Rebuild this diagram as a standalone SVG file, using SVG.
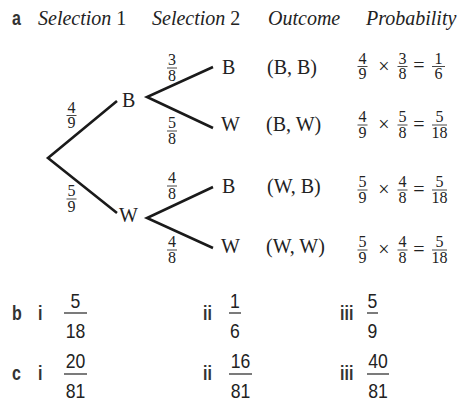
<svg xmlns="http://www.w3.org/2000/svg" width="466" height="402" viewBox="0 0 466 402">
<style>
.hd{font-family:"Liberation Serif","Times New Roman",serif;font-size:20px;font-style:italic;fill:#222}
.up{font-style:normal}
.tx{font-family:"Liberation Serif","Times New Roman",serif;font-size:20px;fill:#222}
.fr{font-family:"Liberation Serif","Times New Roman",serif;font-size:16px;fill:#222;text-anchor:middle}
.op{font-family:"Liberation Serif","Times New Roman",serif;font-size:20px;fill:#222;text-anchor:middle}
.bar{stroke:#333;stroke-width:0.9}
.lab{font-family:"Liberation Sans",Arial,sans-serif;font-size:20px;font-weight:bold;fill:#333}
.sf{font-family:"Liberation Sans",Arial,sans-serif;font-size:20px;fill:#222;text-anchor:middle}
.sbar{stroke:#333;stroke-width:1.3}
.br{stroke:#1a1a1a;stroke-width:2.6;fill:none;stroke-linecap:butt;stroke-linejoin:miter}
</style>
<rect width="466" height="402" fill="#fff"/>

<g id="header">
<text class="lab" transform="translate(12,25) scale(0.8,1)">a</text>
<text class="hd" x="38" y="25">Selection <tspan class="up">1</tspan></text>
<text class="hd" x="152" y="25">Selection <tspan class="up">2</tspan></text>
<text class="hd" x="268" y="25">Outcome</text>
<text class="hd" x="366" y="25">Probability</text>
</g>

<g id="connectors">
<polyline class="br" points="117,101 48,158 117,213"/>
<polyline class="br" points="213,67 147,97 213,128"/>
<polyline class="br" points="213,187 147,218 213,248"/>
</g>

<g id="branch-labels">
<g id="p-4-9"><text class="fr" x="71.5" y="112.5">4</text><line class="bar" x1="66.5" y1="115.5" x2="76.5" y2="115.5"/><text class="fr" x="71.5" y="128">9</text></g>
<g id="p-5-9"><text class="fr" x="71.5" y="196">5</text><line class="bar" x1="66.5" y1="199" x2="76.5" y2="199"/><text class="fr" x="71.5" y="212">9</text></g>
<g id="p-3-8"><text class="fr" x="172" y="65">3</text><line class="bar" x1="167" y1="68" x2="177" y2="68"/><text class="fr" x="172" y="80.5">8</text></g>
<g id="p-5-8"><text class="fr" x="172" y="128">5</text><line class="bar" x1="167" y1="131" x2="177" y2="131"/><text class="fr" x="172" y="143.5">8</text></g>
<g id="p-4-8a"><text class="fr" x="172" y="183">4</text><line class="bar" x1="167" y1="186" x2="177" y2="186"/><text class="fr" x="172" y="199">8</text></g>
<g id="p-4-8b"><text class="fr" x="172" y="247">4</text><line class="bar" x1="167" y1="250" x2="177" y2="250"/><text class="fr" x="172" y="263">8</text></g>
</g>

<g id="node-B1"><text class="tx" x="122" y="107">B</text></g>
<g id="node-W1"><text class="tx" x="119" y="222">W</text></g>
<g id="node-BB"><text class="tx" x="222" y="74">B</text></g>
<g id="node-BW"><text class="tx" x="221" y="131">W</text></g>
<g id="node-WB"><text class="tx" x="222" y="193">B</text></g>
<g id="node-WW"><text class="tx" x="221" y="253">W</text></g>

<g id="outcomes">
<text class="tx" x="267" y="74">(B, B)</text>
<text class="tx" x="266" y="131">(B, W)</text>
<text class="tx" x="267" y="193">(W, B)</text>
<text class="tx" x="266" y="253">(W, W)</text>
</g>

<g id="prob-1">
<text class="fr" x="362.5" y="63.5">4</text><line class="bar" x1="357.5" y1="66.5" x2="367.5" y2="66.5"/><text class="fr" x="362.5" y="79">9</text>
<text class="op" x="384" y="72.5">×</text>
<text class="fr" x="402.5" y="63.5">3</text><line class="bar" x1="397.5" y1="66.5" x2="407.5" y2="66.5"/><text class="fr" x="402.5" y="79">8</text>
<text class="op" x="419" y="72">=</text>
<text class="fr" x="438.5" y="63.5">1</text><line class="bar" x1="432" y1="66.5" x2="445" y2="66.5"/><text class="fr" x="438.5" y="79">6</text>
</g>
<g id="prob-2">
<text class="fr" x="362.5" y="122">4</text><line class="bar" x1="357.5" y1="125" x2="367.5" y2="125"/><text class="fr" x="362.5" y="137.5">9</text>
<text class="op" x="384" y="131">×</text>
<text class="fr" x="402.5" y="122">5</text><line class="bar" x1="397.5" y1="125" x2="407.5" y2="125"/><text class="fr" x="402.5" y="137.5">8</text>
<text class="op" x="419" y="130.5">=</text>
<text class="fr" x="439.5" y="122">5</text><line class="bar" x1="432" y1="125" x2="447" y2="125"/><text class="fr" x="439.5" y="137.5">18</text>
</g>
<g id="prob-3">
<text class="fr" x="362.5" y="187">5</text><line class="bar" x1="357.5" y1="190" x2="367.5" y2="190"/><text class="fr" x="362.5" y="202.5">9</text>
<text class="op" x="384" y="196">×</text>
<text class="fr" x="402.5" y="187">4</text><line class="bar" x1="397.5" y1="190" x2="407.5" y2="190"/><text class="fr" x="402.5" y="202.5">8</text>
<text class="op" x="419" y="195.5">=</text>
<text class="fr" x="439.5" y="187">5</text><line class="bar" x1="432" y1="190" x2="447" y2="190"/><text class="fr" x="439.5" y="202.5">18</text>
</g>
<g id="prob-4">
<text class="fr" x="362.5" y="247">5</text><line class="bar" x1="357.5" y1="250" x2="367.5" y2="250"/><text class="fr" x="362.5" y="262.5">9</text>
<text class="op" x="384" y="256">×</text>
<text class="fr" x="402.5" y="247">4</text><line class="bar" x1="397.5" y1="250" x2="407.5" y2="250"/><text class="fr" x="402.5" y="262.5">8</text>
<text class="op" x="419" y="255.5">=</text>
<text class="fr" x="439.5" y="247">5</text><line class="bar" x1="432" y1="250" x2="447" y2="250"/><text class="fr" x="439.5" y="262.5">18</text>
</g>

<g id="part-b">
<text class="lab" transform="translate(12,320) scale(0.8,1)">b</text>
<text class="lab" transform="translate(38,320) scale(0.8,1)">i</text>
<text class="sf" transform="translate(75.5,308) scale(0.88,1)">5</text><line class="sbar" x1="64" y1="313" x2="87" y2="313"/><text class="sf" transform="translate(75.5,338) scale(0.88,1)">18</text>
<text class="lab" transform="translate(203,320) scale(0.8,1)">ii</text>
<text class="sf" transform="translate(235,308) scale(0.88,1)">1</text><line class="sbar" x1="229" y1="313" x2="241" y2="313"/><text class="sf" transform="translate(235,338) scale(0.88,1)">6</text>
<text class="lab" transform="translate(340,320) scale(0.8,1)">iii</text>
<text class="sf" transform="translate(372.5,308) scale(0.88,1)">5</text><line class="sbar" x1="367" y1="313" x2="378" y2="313"/><text class="sf" transform="translate(372.5,338) scale(0.88,1)">9</text>
</g>

<g id="part-c">
<text class="lab" transform="translate(12,380) scale(0.8,1)">c</text>
<text class="lab" transform="translate(38,380) scale(0.8,1)">i</text>
<text class="sf" transform="translate(75.5,368) scale(0.88,1)">20</text><line class="sbar" x1="64" y1="374" x2="87" y2="374"/><text class="sf" transform="translate(75.5,398) scale(0.88,1)">81</text>
<text class="lab" transform="translate(203,380) scale(0.8,1)">ii</text>
<text class="sf" transform="translate(240.5,368) scale(0.88,1)">16</text><line class="sbar" x1="229" y1="374" x2="252" y2="374"/><text class="sf" transform="translate(240.5,398) scale(0.88,1)">81</text>
<text class="lab" transform="translate(340,380) scale(0.8,1)">iii</text>
<text class="sf" transform="translate(378,368) scale(0.88,1)">40</text><line class="sbar" x1="367" y1="374" x2="389" y2="374"/><text class="sf" transform="translate(378,398) scale(0.88,1)">81</text>
</g>
</svg>
